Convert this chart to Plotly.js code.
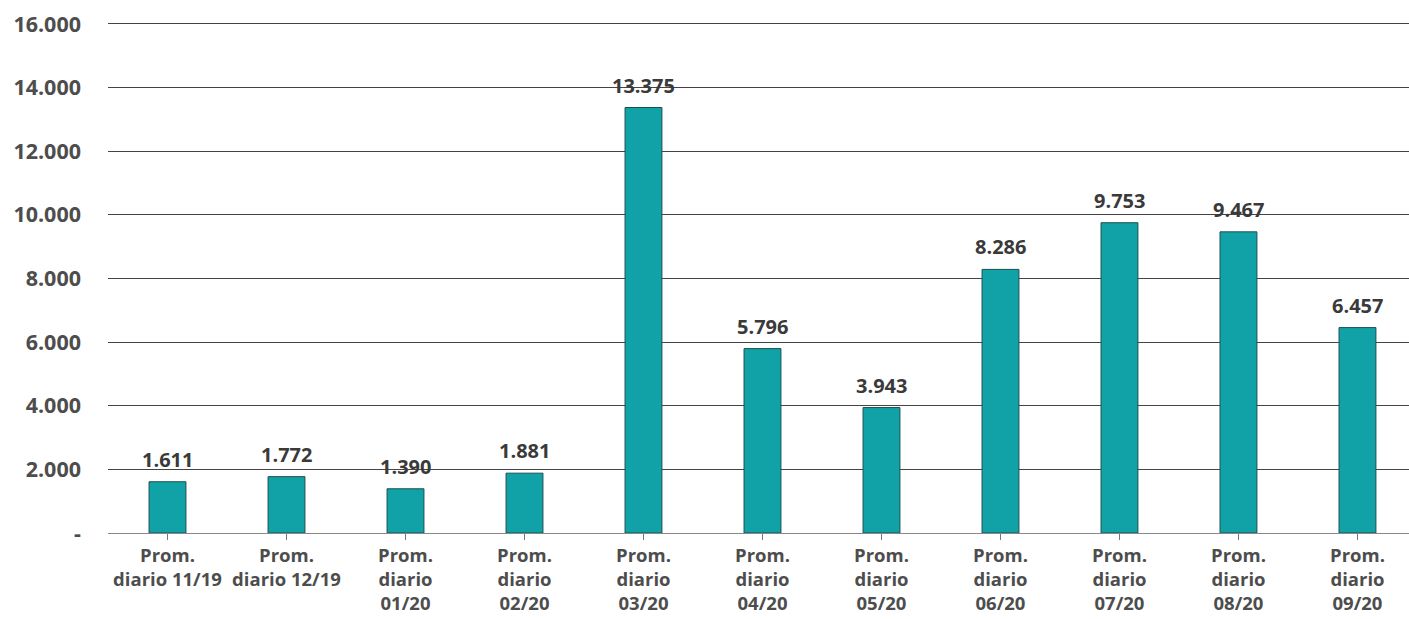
<!DOCTYPE html>
<html><head><meta charset="utf-8">
<script src="https://cdn.plot.ly/plotly-3.0.1.min.js"></script>
<style>html,body{margin:0;padding:0;background:#fff}#c{width:1409px;height:619px}</style>
</head><body><div id="c"></div>
<script>
const categories = ["Prom.<br>diario 11/19","Prom.<br>diario 12/19","Prom.<br>diario<br>01/20","Prom.<br>diario<br>02/20","Prom.<br>diario<br>03/20","Prom.<br>diario<br>04/20","Prom.<br>diario<br>05/20","Prom.<br>diario<br>06/20","Prom.<br>diario<br>07/20","Prom.<br>diario<br>08/20","Prom.<br>diario<br>09/20"];
const values = [1611,1772,1390,1881,13375,5796,3943,8286,9753,9467,6457];
const valueLabels = ["1.611","1.772","1.390","1.881","13.375","5.796","3.943","8.286","9.753","9.467","6.457"];
const yTickVals = [0,2000,4000,6000,8000,10000,12000,14000,16000];
const yTickText = ["-","2.000","4.000","6.000","8.000","10.000","12.000","14.000","16.000"];

const F = "'Open Sans', Lato, sans-serif";
const xs = categories.map((c,i)=>i);
Plotly.newPlot('c', [{
  type:'bar', x: xs, y: values,
  width: 0.31,
  marker:{color:'#10A2A6', line:{color:'#1d4f52', width:1}},
  hoverinfo:'none'
}], {
  width:1409, height:619,
  margin:{l:108, r:0, t:21, b:86},
  paper_bgcolor:'#fff', plot_bgcolor:'#fff',
  showlegend:false, bargap:0,
  annotations: xs.map((x,i)=>({x:x, y:values[i], xref:'x', yref:'y', text:valueLabels[i],
    showarrow:false, yanchor:'bottom', xanchor:'center', yshift:7,
    font:{family:F, size:20, color:'#3a3a3a', weight:700}})),
  xaxis:{
    range:[-0.5,10.433], tickmode:'array', tickvals:xs, ticktext:categories,
    ticks:'outside', tickson:'boundaries', ticklen:6, tickcolor:'#777', tickwidth:1,
    showline:true, linecolor:'#888', linewidth:1, showgrid:false, zeroline:false,
    ticklabelstandoff:0,
    tickfont:{family:F, size:18.5, color:'#4d4d4d', weight:700}, tickangle:0
  },
  yaxis:{
    range:[0,16094], tickmode:'array', tickvals:yTickVals, ticktext:yTickText,
    showgrid:true, gridcolor:'#444', gridwidth:1, zeroline:false, showline:false,
    ticks:'', ticklabelstandoff:26,
    tickfont:{family:F, size:21.5, color:'#4d4d4d', weight:700}
  }
}, {staticPlot:true});
</script></body></html>
